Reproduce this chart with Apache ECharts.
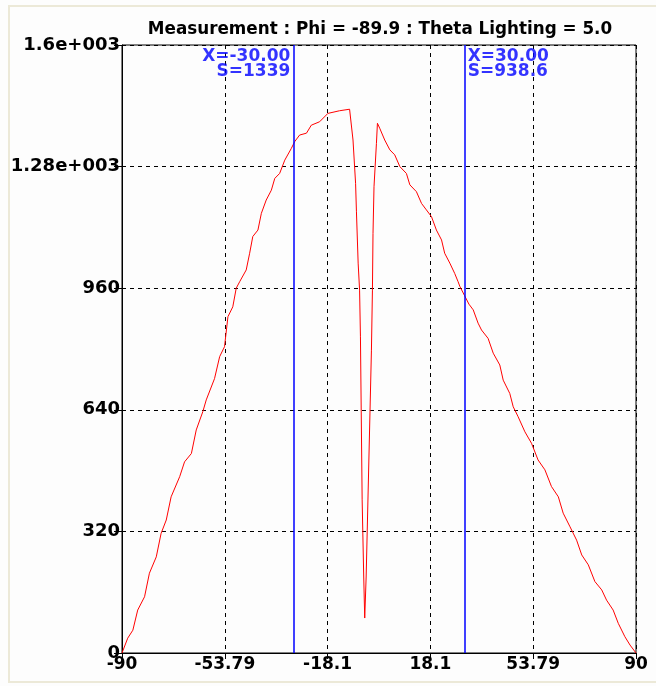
<!DOCTYPE html>
<html>
<head>
<meta charset="utf-8">
<script src="https://cdn.jsdelivr.net/npm/echarts@6/dist/echarts.min.js"></script>
<style>
  html, body { margin: 0; padding: 0; background: #fdfdfd; }
  #chart { width: 656px; height: 686px; }
</style>
</head>
<body>
<div id="chart"></div>
<script>
var angles = [-90, -88, -86.2, -84.5, -82.1, -80.4, -78, -76.3, -74.5, -72.8, -69.8, -68.1, -65.7, -64, -61.7, -60.5,
  -57.6, -55.8, -54.1, -52.9, -51.2, -50, -48.8, -46.5, -45.3, -44.2, -42.4, -41.2, -39.5, -37.7, -36.5, -34.8, -33,
  -30.7, -29.5, -27.8, -25.4, -23.7, -20.8, -17.9, -13.8, -10.3, -9.7, -9.1, -8.2, -7.9, -7.3, -6.8, -6.5, -5.9,
  -5.35, -5, -4.5, -2.65, -2.3, -2.1, -1.75, -0.9, -0.55, 0.25, 2, 3.8, 5.5, 7.3, 9.6, 10.8, 13.1, 14.9, 16.6, 18.4,
  20.1, 21.9, 23, 24.8, 26.5, 27.7, 28.3, 30, 31.5, 33, 34.7, 35.9, 38.2, 40, 42.3, 43.5, 45.8, 47, 48.7, 51.1, 53.4,
  55.7, 58.1, 60.4, 62.8, 64.5, 66.9, 69.2, 71, 73.3, 75.6, 78, 79.7, 82, 83.8, 86.1, 87.9, 90];
var intensity = [0, 39, 60, 113, 148, 210, 253, 315, 350, 411, 464, 503, 525, 587, 635, 666,
  722, 780, 806, 885, 911, 960, 977, 1008, 1052, 1096, 1113, 1157, 1192, 1218, 1249, 1262, 1297,
  1328, 1346, 1363, 1368, 1389, 1398, 1420, 1427, 1431, 1429, 1350, 1236, 1161, 1026, 955, 832, 403,
  200, 92, 200, 797, 955, 1104, 1227, 1341, 1394, 1381, 1350, 1324, 1311, 1280, 1262, 1232, 1214, 1183, 1166, 1148,
  1113, 1087, 1052, 1026, 999, 977, 965, 940, 918, 903, 868, 850, 828, 789, 758, 718, 683, 648, 622, 582, 552,
  508, 482, 438, 411, 368, 332, 297, 258, 232, 188, 166, 139, 113, 78, 43, 21, 0];

var xTickLabels = ['-90', '-53.79', '-18.1', '18.1', '53.79', '90'];
var yTickLabels = ['0', '320', '640', '960', '1.28e+003', '1.6e+003'];

// cursors
var cursorX = [-30, 30];
var cursorS = ['1339', '938.6'];
var cursorXText = ['-30.00', '30.00'];

var font = "'DejaVu Sans', sans-serif";

var chart = echarts.init(document.getElementById('chart'));

var curve = [];
for (var i = 0; i < angles.length; i++) {
  curve.push([angles[i], intensity[i]]);
}

var option = {
  backgroundColor: '#fdfdfd',
  animation: false,
  title: {
    text: 'Measurement : Phi = -89.9 : Theta Lighting = 5.0',
    left: 375,
    textAlign: 'center',
    top: 16,
    textStyle: { fontFamily: font, fontWeight: 'bold', fontSize: 16.8, color: '#000' }
  },
  graphic: [{
    type: 'rect',
    shape: { x: 9, y: 6, width: 660, height: 676 },
    style: { fill: 'none', stroke: '#ece9d8', lineWidth: 2 },
    silent: true
  }],
  grid: {
    left: 122,
    right: 20,
    top: 45,
    bottom: 33,
    show: true,
    borderColor: '#000',
    borderWidth: 1
  },
  xAxis: {
    type: 'value',
    min: -90,
    max: 90,
    interval: 36,
    axisLine: { show: true, onZero: false, lineStyle: { color: '#000', width: 1 } },
    axisTick: { show: true, inside: false, length: 6, lineStyle: { color: '#000' } },
    axisLabel: {
      margin: 3,
      fontFamily: font, fontWeight: 'bold', fontSize: 17, color: '#000',
      formatter: function (v) {
        return xTickLabels[Math.round((v + 90) / 36)];
      }
    },
    splitLine: { show: true, lineStyle: { color: '#000', type: [4, 4], width: 1 } }
  },
  yAxis: {
    type: 'value',
    min: 0,
    max: 1600,
    interval: 320,
    axisLine: { show: true, onZero: false, lineStyle: { color: '#000', width: 1 } },
    axisTick: { show: true, inside: false, length: 8, lineStyle: { color: '#000' } },
    axisLabel: {
      margin: 2,
      fontFamily: font, fontWeight: 'bold', fontSize: 18, color: '#000',
      formatter: function (v) {
        return yTickLabels[Math.round(v / 320)];
      }
    },
    splitLine: { show: true, lineStyle: { color: '#000', type: [4, 4], width: 1 } }
  },
  series: [
    {
      type: 'line',
      data: curve,
      showSymbol: false,
      smooth: false,
      lineStyle: { color: '#ff0000', width: 1 },
      markLine: {
        silent: true,
        symbol: ['none', 'none'],
        label: { show: false },
        lineStyle: { color: '#0000ff', type: 'solid', width: 1.5 },
        data: cursorX.map(function (x) { return { xAxis: x }; })
      },
      z: 3
    },
    {
      type: 'scatter',
      symbolSize: 0,
      data: [[cursorX[0], 1600]],
      label: {
        show: true,
        position: 'inside',
        align: 'right',
        verticalAlign: 'top',
        offset: [-3, 4],
        lineHeight: 15,
        textBorderWidth: 0,
        fontFamily: font, fontWeight: 'bold', fontSize: 17, color: '#0000ff',
        formatter: 'X=' + cursorXText[0] + '\nS=' + cursorS[0]
      },
      z: 4
    },
    {
      type: 'scatter',
      symbolSize: 0,
      data: [[cursorX[1], 1600]],
      label: {
        show: true,
        position: 'inside',
        align: 'left',
        verticalAlign: 'top',
        offset: [3, 4],
        lineHeight: 15,
        textBorderWidth: 0,
        fontFamily: font, fontWeight: 'bold', fontSize: 17, color: '#0000ff',
        formatter: 'X=' + cursorXText[1] + '\nS=' + cursorS[1]
      },
      z: 4
    }
  ]
};

chart.setOption(option);
</script>
</body>
</html>
